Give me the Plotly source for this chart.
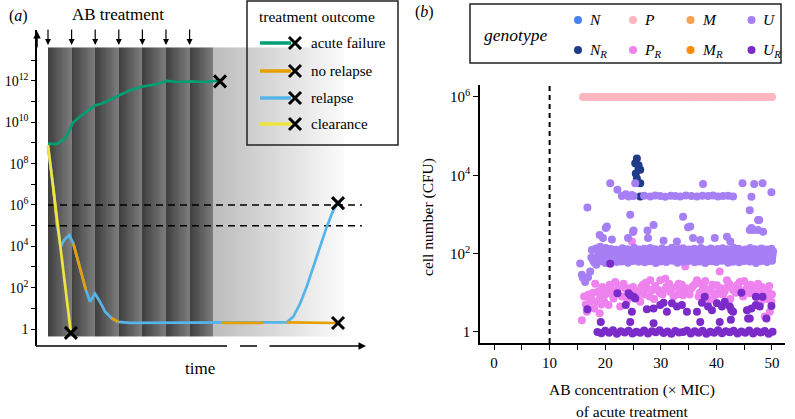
import plotly.graph_objects as go

W, H = 795, 419
FONT = "Liberation Serif"


def PX(px):
    return px / W


def PY(py):
    return 1 - py / H


# ---------------- panel (a) data ----------------
dose_times = [0, 1, 2, 3, 4, 5, 6]
thresholds = [1e6, 1e5]

fail_t = [0.00, 0.37, 0.72, 1.07, 1.50, 2.00, 2.27, 2.98, 3.47, 4.04, 4.53, 5.03, 5.52, 6.09, 6.58, 7.15, 7.29]
fail_n = [9.3e8, 8.7e8, 1.6e9, 1.0e10, 2.5e10, 6.6e10, 7.9e10, 2.0e11, 3.5e11, 5.5e11, 6.6e11, 1.0e12, 8.9e11,
          9.5e11, 8.9e11, 1.0e12, 9.5e11]

clear_t = [0.00, 0.97]
clear_n = [8.0e8, 0.65]

shared_t = [0.00, 0.22, 0.39, 0.54, 0.68, 0.90, 1.07, 1.22, 1.43, 1.61, 1.78, 1.99, 2.20, 2.42, 2.70, 2.98,
            3.47, 7.37, 9.11, 10.11]
shared_n = [6.3e8, 7.9e6, 1.05e5, 9.5e3, 2.0e4, 3.5e4, 1.4e4, 3.1e3, 4.9e2, 76, 21, 52, 21, 6.9, 3.3, 2.2,
            2.0, 2.0, 2.0, 2.1]

relapse_tail_t = [10.39, 10.68, 10.96, 11.24, 11.53, 11.81, 12.09, 12.29]
relapse_tail_n = [3.9, 17, 110, 1000, 9300, 8.7e4, 5.6e5, 1.23e6]

norelapse_tail_t = [12.29]
norelapse_tail_n = [1.95]

relapse_t = shared_t + relapse_tail_t
relapse_n = shared_n + relapse_tail_n
norelapse_t = shared_t + norelapse_tail_t
norelapse_n = shared_n + norelapse_tail_n

outcome_names = ["acute failure", "no relapse", "relapse", "clearance"]
outcome_colors = ["#009E73", "#E69F00", "#56B4E9", "#F0E442"]

# index windows where the orange (no relapse) path is visible on top of blue
orange_windows = [(1, 2), (6, 9), (14, 15), (17, 18), (19, 20)]

# ---------------- panel (b) data ----------------
genotypes = ["N", "P", "M", "U", "N_R", "P_R", "M_R", "U_R"]
geno_labels = ["<i>N</i>", "<i>P</i>", "<i>M</i>", "<i>U</i>",
               "<i>N<sub>R</sub></i>", "<i>P<sub>R</sub></i>", "<i>M<sub>R</sub></i>", "<i>U<sub>R</sub></i>"]
geno_colors = ["#4a80f0", "#ffb6c1", "#f5a052", "#a77ff4", "#1f3c88", "#ee82ee", "#ff8c00", "#7a2bc9"]

N_x, N_y = [], []
M_x, M_y = [], []
MR_x, MR_y = [], []

P_x = [16, 16.5, 17, 17.5, 18, 18.5, 19, 19.5, 20, 20.5,
       21, 21.5, 22, 22.5, 23, 23.5, 24, 24.5, 25, 25.5,
       26, 26.5, 27, 27.5, 28, 28.5, 29, 29.5, 30, 30.5,
       31, 31.5, 32, 32.5, 33, 33.5, 34, 34.5, 35, 35.5,
       36, 36.5, 37, 37.5, 38, 38.5, 39, 39.5, 40, 40.5,
       41, 41.5, 42, 42.5, 43, 43.5, 44, 44.5, 45, 45.5,
       46, 46.5, 47, 47.5, 48, 48.5, 49, 49.5, 50]
P_y = [1e6, 1e6, 1e6, 1e6, 1e6, 1e6, 1e6, 1e6, 1e6, 1e6,
       1e6, 1e6, 1e6, 1e6, 1e6, 1e6, 1e6, 1e6, 1e6, 1e6,
       1e6, 1e6, 1e6, 1e6, 1e6, 1e6, 1e6, 1e6, 1e6, 1e6,
       1e6, 1e6, 1e6, 1e6, 1e6, 1e6, 1e6, 1e6, 1e6, 1e6,
       1e6, 1e6, 1e6, 1e6, 1e6, 1e6, 1e6, 1e6, 1e6, 1e6,
       1e6, 1e6, 1e6, 1e6, 1e6, 1e6, 1e6, 1e6, 1e6, 1e6,
       1e6, 1e6, 1e6, 1e6, 1e6, 1e6, 1e6, 1e6, 1e6]

NR_x = [25.7, 26.0, 25.5, 26.3, 25.7, 26.3, 26.3, 25.4, 26.0]
NR_y = [27000, 15000, 11200, 13800, 8300, 6300, 2900, 20400, 18200]

U_x = [
    # band, upper row
    18.3, 19.2, 20.1, 21.0, 22.0, 23.1, 24.0, 25.2, 26.1, 27.0,
    28.1, 29.0, 30.2, 31.1, 32.0, 33.1, 34.0, 35.1, 36.0, 37.2,
    38.1, 39.0, 40.2, 41.1, 42.0, 43.1, 44.0, 45.2, 46.1, 47.0,
    48.1, 49.0, 49.9,
    # band, upper-middle row
    18.8, 19.7, 20.6, 21.6, 22.5, 23.6, 24.5, 25.7, 26.6, 27.5,
    28.6, 29.5, 30.7, 31.6, 32.5, 33.6, 34.5, 35.6, 36.5, 37.7,
    38.6, 39.5, 40.7, 41.6, 42.5, 43.6, 44.5, 45.7, 46.6, 47.5,
    48.6, 49.5, 50.2,
    # band, middle row
    17.5, 18.7, 19.6, 20.5, 21.5, 22.6, 23.5, 24.6, 25.6, 26.5,
    27.6, 28.5, 29.6, 30.6, 31.5, 32.6, 33.5, 34.6, 35.5, 36.6,
    37.6, 38.5, 39.6, 40.6, 41.5, 42.6, 43.5, 44.6, 45.5, 46.6,
    47.5, 48.6, 49.5, 50.1,
    # band, lower-middle row
    18.2, 19.4, 20.3, 21.3, 22.3, 23.3, 24.3, 25.4, 26.3, 27.3,
    28.3, 29.3, 30.4, 31.3, 32.3, 33.3, 34.3, 35.3, 36.3, 37.4,
    38.3, 39.3, 40.4, 41.3, 42.3, 43.3, 44.3, 45.4, 46.3, 47.3,
    48.3, 49.3, 50.0,
    # band, lower row
    18.0, 19.0, 20.0, 21.1, 22.1, 23.0, 24.1, 25.0, 26.0, 27.1,
    28.0, 29.1, 30.0, 31.0, 32.1, 33.0, 34.1, 35.0, 36.1, 37.0,
    38.0, 39.1, 40.0, 41.0, 42.1, 43.0, 44.1, 45.0, 46.0, 47.1,
    48.0, 49.1, 50.0,
    # left end of band
    15.5, 15.8, 16.4, 17.3, 17.8, 17.6, 19.1, 16.0, 16.9, 18.4,
    # scattered
    16.8, 20.9, 22.2, 23.7, 24.8, 25.4, 23.0, 24.2, 25.1, 27.0,
    28.1, 29.0, 29.9, 30.8, 31.8, 32.6, 33.5, 34.5, 35.5, 36.5,
    37.5, 38.5, 39.4, 40.3, 41.2, 42.1, 43.0, 37.6, 44.7, 46.8,
    48.3, 49.9, 46.3, 46.0, 47.5, 46.7, 47.5, 46.0, 48.4, 34.0,
    34.9, 24.5, 20.1, 25.1, 27.6, 28.7, 19.0, 20.3, 24.1, 25.0,
    27.7, 32.9, 35.3, 35.8, 37.1, 39.7, 41.9, 46.3, 47.7, 19.6,
    21.2, 30.5, 42.5,
]
U_y = [
    135, 128, 140, 131, 126, 138, 130, 142, 127, 134,
    139, 129, 136, 125, 141, 132, 137, 128, 133, 140,
    126, 135, 131, 138, 129, 142, 134, 127, 139, 130,
    136, 128, 133,
    112, 105, 118, 108, 115, 103, 110, 117, 106, 113,
    109, 116, 104, 111, 119, 107, 114, 102, 112, 117,
    105, 110, 115, 108, 103, 113, 118, 106, 111, 116,
    104, 109, 114,
    80, 88, 92, 86, 95, 89, 84, 93, 87, 91,
    85, 94, 88, 90, 83, 92, 86, 95, 89, 84,
    91, 87, 93, 85, 90, 88, 94, 86, 92, 89,
    87, 93, 85, 90,
    72, 76, 70, 74, 78, 71, 75, 69, 77, 73,
    70, 76, 72, 79, 71, 74, 68, 77, 73, 75,
    70, 78, 72, 74, 69, 76, 71, 75, 73, 77,
    70, 74, 72,
    60, 64, 58, 66, 61, 63, 59, 65, 62, 60,
    64, 58, 63, 61, 66, 59, 62, 65, 60, 63,
    58, 64, 61, 66, 59, 62, 60, 65, 63, 58,
    64, 61, 66,
    56, 29, 19, 35, 69, 124, 150, 24, 25, 52,
    1510, 6300, 4270, 3310, 3160, 6300, 2950, 2900, 2950, 3000,
    2900, 3050, 2950, 2850, 3000, 2950, 2900, 3050, 2950, 2900,
    3000, 2950, 3050, 2900, 2950, 3000, 2900, 6000, 6300, 6000,
    6300, 3700, 2850, 1290, 720, 400, 400, 400, 360, 870,
    470, 980, 450, 390, 390, 540, 300, 490, 250, 355,
    250, 205, 490, 250, 224, 250, 270, 450, 720, 250,
    230, 215, 205,
]

PR_x = [
    15.8, 16.7, 17.3, 18.2, 19.1, 20.3, 20.6, 21.5, 22.7, 23.6,
    25.7, 26.3, 28.1, 28.4, 29.9, 30.8, 31.7, 32.9, 34.0, 34.4,
    36.5, 37.6, 38.8, 40.6, 40.1, 41.9, 43.0, 44.2, 46.0, 47.2,
    48.4, 49.6, 49.9, 49.6, 48.7, 24.8,
    17.8, 18.5, 19.5, 20.0, 21.0, 22.0, 22.5, 23.0, 24.0, 24.5,
    25.0, 26.0, 27.0, 27.5, 28.8, 29.5, 30.3, 31.0, 32.3, 33.5,
    34.5, 35.2, 35.8, 36.8, 37.3, 38.2, 39.0, 39.5, 40.3, 41.2,
    42.0, 42.5, 43.5, 44.0, 44.8, 45.3, 45.8, 46.5, 47.0, 47.8,
    48.0, 48.8, 49.2, 50.0, 16.5, 17.0, 18.0, 19.0, 16.2, 21.8,
    26.8, 33.2, 38.0, 43.8, 45.0, 47.5,
    17.5, 18.8, 19.8, 20.8, 21.3, 22.2, 23.3, 24.3, 25.3, 26.5,
    27.3, 28.0, 29.0, 29.8, 30.7, 31.5, 32.0, 33.0, 33.8, 34.8,
    35.5, 36.2, 37.0, 37.8, 38.5, 39.3, 40.0, 40.8, 41.5, 42.3,
    43.2, 44.5, 45.5, 46.2, 46.8, 47.3, 48.2, 49.0, 49.5, 19.3,
]
PR_y = [
    2.0, 3.3, 5.9, 17, 8.7, 11.7, 4.9, 7.2, 4.5, 12.9,
    7.9, 5.9, 21, 11.7, 21, 23, 10.7, 14.5, 8.7, 47,
    21, 12.9, 6.6, 35, 15.5, 21, 11.7, 19, 9.8, 7.9,
    8.7, 9.8, 5.9, 3.3, 2.5, 204,
    10, 6, 14, 9, 13, 10, 15, 8, 6.5, 10,
    14, 11, 9, 13, 7, 12, 9, 14, 8, 11,
    13, 9, 15, 8, 17, 10, 12, 8, 10, 9,
    14, 7, 10, 13, 8, 12, 15, 10, 13, 10,
    6, 12, 7, 9, 5, 9, 4, 3, 8, 19,
    16, 17, 20, 16, 20, 17,
    7, 11, 6, 16, 9, 12, 17, 13, 9, 14,
    18, 8, 15, 10, 12, 17, 13, 9, 16, 11,
    13, 17, 10, 14, 12, 16, 9, 13, 11, 17,
    14, 10, 13, 16, 11, 9, 14, 12, 15, 5,
]

UR_x = [
    # row at 1 CFU
    18.6, 19.3, 20.0, 20.7, 21.4, 22.1, 22.8, 23.5, 24.2, 24.9,
    25.6, 26.3, 27.0, 27.7, 28.4, 29.1, 29.8, 30.5, 31.2, 31.9,
    32.6, 33.3, 34.0, 34.7, 35.4, 36.1, 36.8, 37.5, 38.2, 38.9,
    39.6, 40.3, 41.0, 41.7, 42.4, 43.1, 43.8, 44.5, 45.2, 45.9,
    46.6, 47.3, 48.0, 48.7, 49.4, 50.1,
    # scattered
    19.2, 24.5, 28.7, 37.1, 40.6, 42.6, 49.0, 46.0, 16.8, 20.9,
    22.2, 23.7, 24.2, 25.1, 25.4, 24.8, 27.5, 28.7, 29.9, 30.5,
    31.1, 32.0, 32.9, 33.8, 34.7, 36.5, 37.4, 37.9, 38.5, 39.2,
    40.1, 41.0, 41.5, 42.4, 43.0, 44.5, 45.5, 46.3, 47.1, 47.1,
    48.3, 47.8, 49.9, 42.7, 45.7, 24.5,
]
UR_y = [
    1.0, 0.93, 1.07, 0.96, 1.1, 0.9, 1.04, 0.97, 1.08, 0.92,
    1.02, 0.95, 1.09, 0.91, 1.05, 0.98, 1.1, 0.94, 1.03, 0.9,
    1.06, 0.97, 1.0, 1.09, 0.92, 1.04, 0.95, 1.08, 0.9, 1.02,
    0.96, 1.1, 0.93, 1.05, 0.98, 1.07, 0.91, 1.03, 0.95, 1.09,
    0.92, 1.04, 0.97, 1.06, 0.9, 1.02,
    1.8, 1.8, 1.66, 1.8, 1.8, 2.05, 2.2, 2.2, 3.8, 55,
    9.8, 4.9, 9.8, 7.9, 7.2, 3.3, 3.8, 4.0, 4.9, 5.6,
    3.3, 5.4, 4.5, 4.9, 3.3, 3.3, 5.6, 7.9, 4.5, 3.6,
    5.4, 4.5, 5.9, 4.5, 3.3, 10, 3.6, 4.0, 4.9, 7.9,
    7.9, 4.5, 4.6, 3.6, 2.2, 8.7,
]

series_b = {
    "N": (N_x, N_y), "P": (P_x, P_y), "M": (M_x, M_y), "N_R": (NR_x, NR_y),
    "P_R": (PR_x, PR_y), "M_R": (MR_x, MR_y), "U": (U_x, U_y), "U_R": (UR_x, UR_y),
}
draw_order_b = ["N", "P", "M", "N_R", "P_R", "M_R", "U", "U_R"]

# ---------------- figure ----------------
fig = go.Figure()

# background: dosing stripes and fading tail (styling only)
stripe_dark, stripe_light = 62, 125
fade_start, fade_end_t, n_stripes = 188, 12.6, len(dose_times)
bg_edges = [round(i * 0.05, 3) for i in range(int(fade_end_t / 0.05) + 1)]
bg_z = []
for a, b in zip(bg_edges[:-1], bg_edges[1:]):
    c = (a + b) / 2
    if c < n_stripes:
        f = c - int(c)
        bg_z.append(stripe_dark + (stripe_light - stripe_dark) * f)
    else:
        f = min(1.0, (c - n_stripes) / (fade_end_t - n_stripes))
        bg_z.append(fade_start + (252 - fade_start) * f)
fig.add_trace(go.Heatmap(x=bg_edges, y=[10 ** -0.34, 10 ** 13.62], z=[bg_z],
                         colorscale=[[0, "rgb(0,0,0)"], [1, "rgb(255,255,255)"]],
                         zmin=0, zmax=255, showscale=False, hoverinfo="skip",
                         xaxis="x", yaxis="y"))

for th in thresholds:
    fig.add_trace(go.Scatter(x=[0, 13.3], y=[th, th], mode="lines",
                             line=dict(color="black", width=1.5, dash="7px,5px"),
                             xaxis="x", yaxis="y", hoverinfo="skip"))

fig.add_trace(go.Scatter(x=fail_t, y=fail_n, mode="lines", line=dict(color=outcome_colors[0], width=2.7),
                         xaxis="x", yaxis="y"))
fig.add_trace(go.Scatter(x=relapse_t, y=relapse_n, mode="lines", line=dict(color=outcome_colors[2], width=2.7),
                         xaxis="x", yaxis="y"))
for i0, i1 in orange_windows:
    fig.add_trace(go.Scatter(x=norelapse_t[i0:i1 + 1], y=norelapse_n[i0:i1 + 1], mode="lines",
                             line=dict(color=outcome_colors[1], width=2.7), xaxis="x", yaxis="y"))
fig.add_trace(go.Scatter(x=clear_t, y=clear_n, mode="lines", line=dict(color=outcome_colors[3], width=2.7),
                         xaxis="x", yaxis="y"))
fig.add_trace(go.Scatter(x=[fail_t[-1], norelapse_t[-1], relapse_t[-1], clear_t[-1]],
                         y=[fail_n[-1], norelapse_n[-1], relapse_n[-1], clear_n[-1]],
                         mode="markers",
                         marker=dict(symbol="x-thin", size=12, line=dict(width=3, color="black"), color="black"),
                         xaxis="x", yaxis="y"))

# panel (b) scatter
for g in draw_order_b:
    xs, ys = series_b[g]
    fig.add_trace(go.Scatter(x=xs, y=ys, mode="markers", name=g,
                             marker=dict(size=8, color=geno_colors[genotypes.index(g)], line=dict(width=0)),
                             xaxis="x2", yaxis="y2"))

# legends (pixel overlay axis)
leg_a_rows = [43, 71, 98, 124]
for name, col, ry in zip(outcome_names, outcome_colors, leg_a_rows):
    fig.add_trace(go.Scatter(x=[260, 291], y=[ry, ry], mode="lines", line=dict(color=col, width=3.5),
                             xaxis="x3", yaxis="y3", hoverinfo="skip"))
fig.add_trace(go.Scatter(x=[295] * 4, y=leg_a_rows, mode="markers",
                         marker=dict(symbol="x-thin", size=12, line=dict(width=3, color="black")),
                         xaxis="x3", yaxis="y3", hoverinfo="skip"))
leg_b_x = [578, 633, 690.5, 751.5]
leg_b_y = [20, 50]
for k, g in enumerate(genotypes):
    mx = leg_b_x[k % 4]
    my = leg_b_y[k // 4]
    fig.add_trace(go.Scatter(x=[mx], y=[my], mode="markers",
                             marker=dict(size=8, color=geno_colors[k]), xaxis="x3", yaxis="y3",
                             hoverinfo="skip"))

# ---------------- annotations ----------------
ann = []


def txt(px, py, s, size, anchor="center", angle=0):
    ann.append(dict(x=PX(px), y=PY(py), xref="paper", yref="paper", text=s, showarrow=False,
                    xanchor=anchor, yanchor="middle", textangle=angle,
                    font=dict(family=FONT, size=size, color="black")))


txt(18, 16, "(<i>a</i>)", 16)
txt(118, 14, "AB treatment", 17)
txt(200, 368, "time", 17)
txt(317, 16, "treatment outcome", 15.5)
for name, ry in zip(outcome_names, leg_a_rows):
    txt(309, ry, name, 15, anchor="left")

txt(424, 12, "(<i>b</i>)", 16)
txt(515, 35, "<i>genotype</i>", 17.5)
for k, lab in enumerate(geno_labels):
    txt(leg_b_x[k % 4] + 9, leg_b_y[k // 4], lab, 15.5, anchor="left")
txt(428, 217, "cell number (CFU)", 15.5, angle=-90)
txt(632, 390, "AB concentration (× MIC)", 15.5)
txt(632, 411, "of acute treatment", 15.5)

for t in dose_times:
    ann.append(dict(x=t, y=PY(45), xref="x", yref="paper", text="", showarrow=True,
                    ax=0, ay=-17, arrowhead=2, arrowsize=1, arrowwidth=1.2, arrowcolor="black", standoff=0))
ann.append(dict(x=PX(37), y=PY(31), xref="paper", yref="paper", text="", showarrow=True,
                ax=0, ay=18, arrowhead=2, arrowsize=1, arrowwidth=1.5, arrowcolor="black", standoff=0))
ann.append(dict(x=PX(366), y=PY(346), xref="paper", yref="paper", text="", showarrow=True,
                ax=-98, ay=0, arrowhead=2, arrowsize=1, arrowwidth=1.5, arrowcolor="black", standoff=0))

shapes = [
    dict(type="line", xref="paper", yref="paper", x0=PX(36), x1=PX(227), y0=PY(346), y1=PY(346),
         line=dict(color="black", width=1.5)),
    dict(type="line", xref="paper", yref="paper", x0=PX(240), x1=PX(257), y0=PY(346), y1=PY(346),
         line=dict(color="black", width=1.5)),
    dict(type="rect", xref="paper", yref="paper", x0=PX(247), x1=PX(398), y0=PY(145), y1=PY(1),
         line=dict(color="#222", width=1.5), fillcolor="rgba(0,0,0,0)"),
    dict(type="rect", xref="paper", yref="paper", x0=PX(470), x1=PX(781), y0=PY(63), y1=PY(4),
         line=dict(color="#222", width=1.5), fillcolor="rgba(0,0,0,0)"),
    dict(type="line", xref="x2", yref="y2 domain", x0=10, x1=10, y0=0, y1=1,
         line=dict(color="black", width=2, dash="5px,4px")),
]

a_ticks = [10 ** k for k in range(0, 14)]
a_text = ["1" if k == 0 else ("10<sup>%d</sup>" % k if k % 2 == 0 else "") for k in range(0, 14)]
b_xt = list(range(0, 51, 5))
b_xtext = [str(v) if v % 10 == 0 else "" for v in b_xt]
b_yt = [1, 1e2, 1e4, 1e6]
b_ytext = ["1", "10<sup>2</sup>", "10<sup>4</sup>", "10<sup>6</sup>"]

tickfont = dict(family=FONT, size=14, color="black")
fig.update_layout(
    width=W, height=H, autosize=False,
    margin=dict(l=0, r=0, t=0, b=0),
    paper_bgcolor="white", plot_bgcolor="rgba(0,0,0,0)",
    showlegend=False,
    annotations=ann, shapes=shapes,
    xaxis=dict(domain=[PX(37), PX(366)], range=[-0.466, 13.475], visible=False, anchor="y"),
    yaxis=dict(domain=[PY(346), PY(30)], type="log", range=[-0.822, 14.465], anchor="x",
               tickvals=a_ticks, ticktext=a_text, ticks="outside", ticklen=4, tickwidth=1.2,
               tickcolor="black", showline=True, linecolor="black", linewidth=1.5,
               showgrid=False, zeroline=False, tickfont=tickfont),
    xaxis2=dict(domain=[PX(480), PX(785)], range=[-2.52, 52.34], anchor="y2",
                tickvals=b_xt, ticktext=b_xtext, ticks="outside", ticklen=5, tickwidth=1.2,
                tickcolor="black", showline=True, linecolor="black", linewidth=1.5,
                showgrid=False, zeroline=False, tickfont=dict(family=FONT, size=15, color="black")),
    yaxis2=dict(domain=[PY(343), PY(85)], type="log", range=[-0.281, 6.306], anchor="x2",
                tickvals=b_yt, ticktext=b_ytext, ticks="outside", ticklen=5, tickwidth=1.2,
                tickcolor="black", showline=True, linecolor="black", linewidth=1.5,
                showgrid=False, zeroline=False, tickfont=dict(family=FONT, size=15, color="black")),
    xaxis3=dict(domain=[0, 1], range=[0, W], visible=False, anchor="y3", fixedrange=True),
    yaxis3=dict(domain=[0, 1], range=[H, 0], visible=False, anchor="x3", fixedrange=True),
)

fig.write_html("out.html", config={"displayModeBar": False},
               post_script="document.body.style.margin='0px';")
